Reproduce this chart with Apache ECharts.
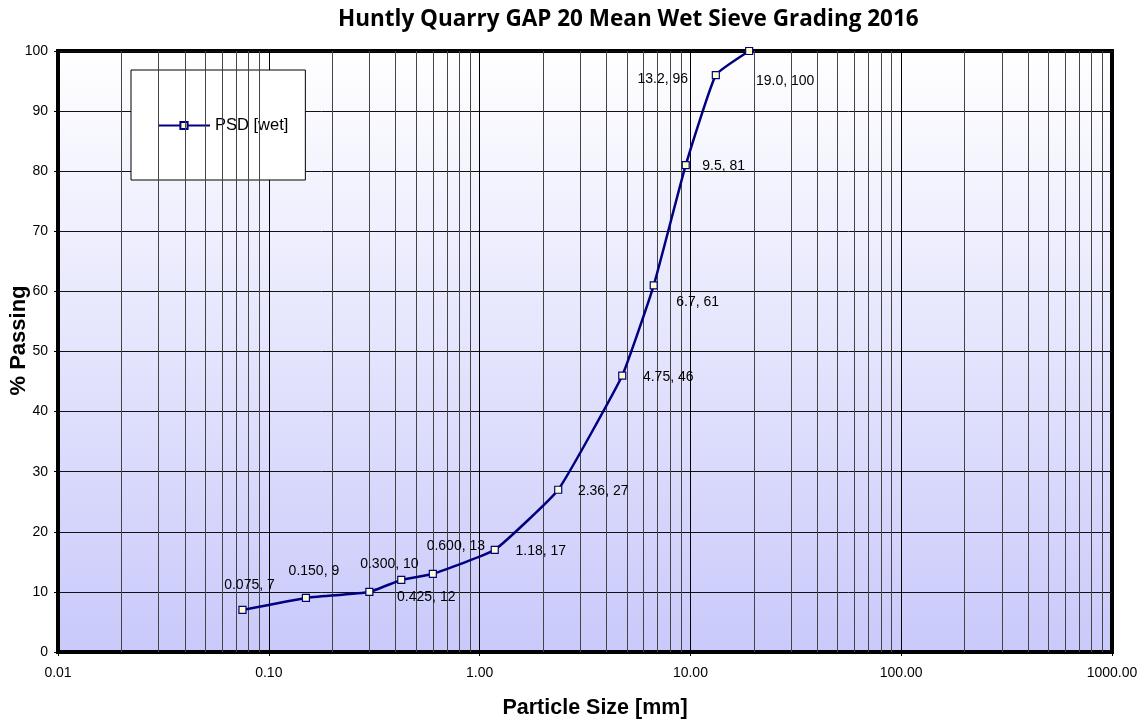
<!DOCTYPE html>
<html>
<head>
<meta charset="utf-8">
<script src="https://cdn.jsdelivr.net/npm/echarts@6/dist/echarts.min.js"></script>
<style>
  html, body { margin: 0; padding: 0; background: #fff; }
  #chart { width: 1146px; height: 719px; }
</style>
</head>
<body>
<div id="chart"></div>
<script>
// sieve data
const sizes = [0.075, 0.150, 0.300, 0.425, 0.600, 1.18, 2.36, 4.75, 6.7, 9.5, 13.2, 19.0];
const sizeLabels = ['0.075', '0.150', '0.300', '0.425', '0.600', '1.18', '2.36', '4.75', '6.7', '9.5', '13.2', '19.0'];
const passing = [7, 9, 10, 12, 13, 17, 27, 46, 61, 81, 96, 100];

// where each data label sits, relative to its point
const labelOffsets = [
    [7, -25], [8, -27], [20, -28], [25, 17], [23, -28], [46, 1],
    [45, 1], [46, 2], [44, 17], [38, 1], [-53, 4], [36, 30]
];

// minor vertical grid lines (2..9 in every decade)
const decades = [0.01, 0.1, 1, 10, 100];
const minorLines = [];
decades.forEach(function (d) {
    for (let m = 2; m <= 9; m++) {
        minorLines.push({ xAxis: +(d * m).toPrecision(3) });
    }
});

document.addEventListener('DOMContentLoaded', function () {
    const chartDom = document.getElementById('chart');
    const chart = echarts.init(chartDom);

    const points = sizes.map(function (s, i) {
        return {
            value: [s, passing[i]],
            label: { offset: labelOffsets[i] }
        };
    });

    const option = {
        animation: false,
        title: {
            text: 'Huntly Quarry GAP 20 Mean Wet Sieve Grading 2016',
            left: 333,
            top: 3,
            textStyle: {
                fontFamily: 'Open Sans',
                fontWeight: 'bold',
                fontSize: 22.5,
                color: '#000'
            }
        },
        legend: {
            data: ['PSD [wet]'],
            left: 131,
            top: 70,
            padding: [47, 17, 46, 26],
            backgroundColor: '#fff',
            borderColor: '#000',
            borderWidth: 1,
            itemWidth: 52,
            itemHeight: 9,
            itemGap: 0,
            textStyle: {
                fontFamily: 'Liberation Sans',
                fontSize: 16.5,
                color: '#000'
            }
        },
        grid: {
            left: 58,
            right: 34,
            top: 51,
            bottom: 67,
            outerBoundsMode: 'none',
            show: true,
            borderColor: '#000',
            borderWidth: 4,
            backgroundColor: new echarts.graphic.LinearGradient(0, 0, 0, 1, [
                { offset: 0, color: '#ffffff' },
                { offset: 1, color: '#c9c9fb' }
            ])
        },
        xAxis: {
            type: 'log',
            logBase: 10,
            min: 0.01,
            max: 1000,
            name: 'Particle Size [mm]',
            nameLocation: 'middle',
            nameGap: 45,
            nameTextStyle: {
                fontFamily: 'Liberation Sans',
                fontWeight: 'bold',
                fontSize: 21.5,
                color: '#000',
                padding: [0, 0, 0, 20]
            },
            axisLine: { show: true, lineStyle: { color: '#000', width: 4 } },
            axisTick: { show: true, length: 4, lineStyle: { color: '#000' } },
            axisLabel: {
                fontFamily: 'Liberation Sans',
                fontSize: 14,
                color: '#000',
                margin: 14,
                formatter: function (v) { return v.toFixed(2); }
            },
            splitLine: { show: true, lineStyle: { color: '#000', width: 1 } }
        },
        yAxis: {
            type: 'value',
            min: 0,
            max: 100,
            interval: 10,
            name: '% Passing',
            nameLocation: 'middle',
            nameMoveOverlap: false,
            nameGap: 28,
            nameTextStyle: {
                fontFamily: 'Liberation Sans',
                fontWeight: 'bold',
                fontSize: 22,
                color: '#000',
                padding: [0, 0, 0, 22]
            },
            axisLine: { show: true, lineStyle: { color: '#000', width: 4 } },
            axisTick: { show: true, length: 4, lineStyle: { color: '#000' } },
            axisLabel: {
                fontFamily: 'Liberation Sans',
                fontSize: 14,
                color: '#000',
                margin: 10
            },
            splitLine: { show: true, lineStyle: { color: '#111', width: 1 } }
        },
        series: [
            {
                name: 'minor',
                type: 'line',
                data: [],
                silent: true,
                z: 1,
                markLine: {
                    silent: true,
                    symbol: ['none', 'none'],
                    label: { show: false },
                    animation: false,
                    lineStyle: { color: '#444', type: 'solid', width: 1 },
                    data: minorLines
                }
            },
            {
                name: 'PSD [wet]',
                type: 'line',
                z: 5,
                smooth: 0.12,
                symbol: 'rect',
                symbolSize: 7,
                data: points,
                lineStyle: { color: '#000080', width: 2.5 },
                itemStyle: { color: '#ffffcc', borderColor: '#000080', borderWidth: 1.2 },
                label: {
                    show: true,
                    position: 'inside',
                    align: 'center',
                    verticalAlign: 'middle',
                    fontFamily: 'Liberation Sans',
                    fontSize: 14,
                    color: '#000',
                    formatter: function (p) {
                        return sizeLabels[p.dataIndex] + ', ' + passing[p.dataIndex];
                    }
                }
            }
        ]
    };
    chart.setOption(option);
});
</script>
</body>
</html>
